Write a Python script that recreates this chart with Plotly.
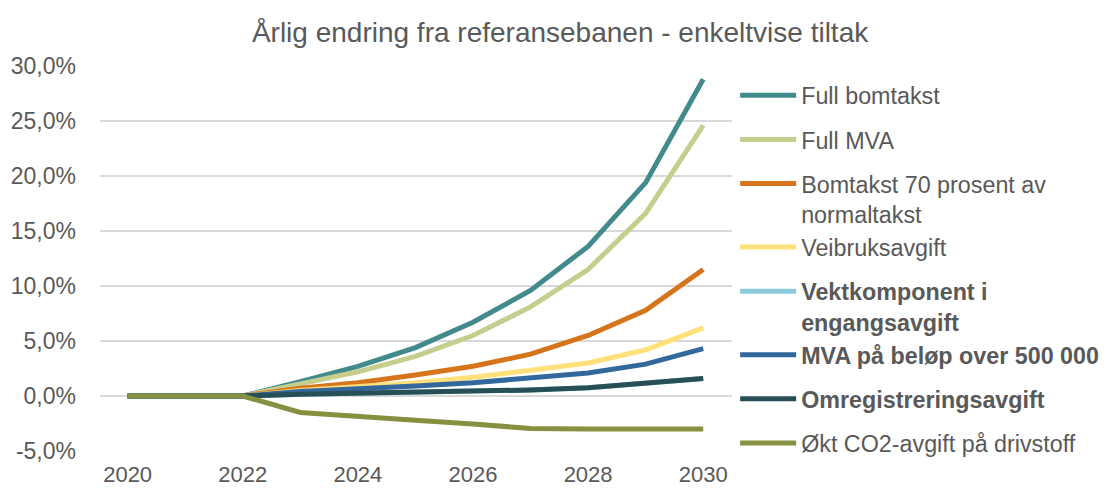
import plotly.graph_objects as go

years = list(range(2020, 2031))

full_bomtakst = [0, 0, 0, 1.3, 2.7, 4.4, 6.7, 9.6, 13.6, 19.4, 28.8]
full_mva = [0, 0, 0, 1.1, 2.2, 3.6, 5.5, 8.1, 11.5, 16.6, 24.6]
bomtakst_70 = [0, 0, 0, 0.7, 1.2, 1.9, 2.7, 3.8, 5.5, 7.8, 11.5]
veibruksavgift = [0, 0, 0, 0.5, 0.85, 1.2, 1.7, 2.3, 3.0, 4.2, 6.2]
vektkomponent = [0, 0, 0, 0.15, 0.25, 0.3, 0.4, 0.55, 0.75, 1.15, 1.6]
mva_500 = [0, 0, 0, 0.4, 0.6, 0.9, 1.2, 1.6, 2.1, 2.9, 4.3]
omregistrering = [0, 0, 0, 0.15, 0.25, 0.3, 0.4, 0.55, 0.75, 1.15, 1.6]
co2 = [0, 0, 0, -1.5, -1.9, -2.2, -2.55, -2.95, -3.0, -3.0, -3.0]

series_names = [
    "Full bomtakst",
    "Full MVA",
    "Bomtakst 70 prosent av<br>normaltakst",
    "Veibruksavgift",
    "<b>Vektkomponent i<br>engangsavgift</b>",
    "<b>MVA på beløp over 500 000</b>",
    "<b>Omregistreringsavgift</b>",
    "Økt CO2-avgift på drivstoff",
]
series_values = [full_bomtakst, full_mva, bomtakst_70, veibruksavgift,
                 vektkomponent, mva_500, omregistrering, co2]
series_colors = ["#428A8C", "#C6CE8E", "#D5741B", "#FFE07A",
                 "#8DCADC", "#33689C", "#264F56", "#878F41"]
# legend groups: a two-line entry shares a group with the entry after it
legend_groups = ["a", "b", "c", "c", "d", "d", "e", "f"]

y_tickvals = [-5, 0, 5, 10, 15, 20, 25, 30]
y_ticktext = ["-5,0%", "0,0%", "5,0%", "10,0%", "15,0%", "20,0%", "25,0%", "30,0%"]
x_tickvals = [2020, 2022, 2024, 2026, 2028, 2030]

fig = go.Figure()
for name, vals, col, grp in zip(series_names, series_values, series_colors, legend_groups):
    fig.add_trace(go.Scatter(
        x=years, y=vals, name=name, mode="lines",
        line=dict(color=col, width=5),
        legendgroup=grp,
    ))

fig.update_layout(
    width=1113, height=488,
    margin=dict(l=92, r=389, t=58, b=45, autoexpand=False),
    paper_bgcolor="white", plot_bgcolor="white",
    font=dict(family="Liberation Sans, Arial, sans-serif", color="#595959", size=23),
    title=dict(text="Årlig endring fra referansebanen - enkeltvise tiltak",
               x=0.496, xanchor="center", y=1 - 24 / 488, yanchor="middle",
               font=dict(size=28, color="#595959")),
    xaxis=dict(range=[2019.52, 2030.5], tickvals=x_tickvals, showgrid=False,
               zeroline=False, showline=False, ticks="", ticklabelstandoff=8,
               tickfont=dict(size=22)),
    yaxis=dict(range=[-5, 30], tickvals=y_tickvals, ticktext=y_ticktext,
               showgrid=True, gridcolor="#D9D9D9", gridwidth=1.5,
               zeroline=False, showline=False, ticks="", ticklabelstandoff=23,
               tickfont=dict(size=23)),
    showlegend=True,
    legend=dict(x=1.005, xanchor="left", y=0.98, yanchor="top",
                font=dict(size=23.3, color="#595959"), tracegroupgap=10.8,
                itemwidth=56, valign="top", bgcolor="rgba(0,0,0,0)",
                maxheight=480),
)

fig.write_html("out.html")
